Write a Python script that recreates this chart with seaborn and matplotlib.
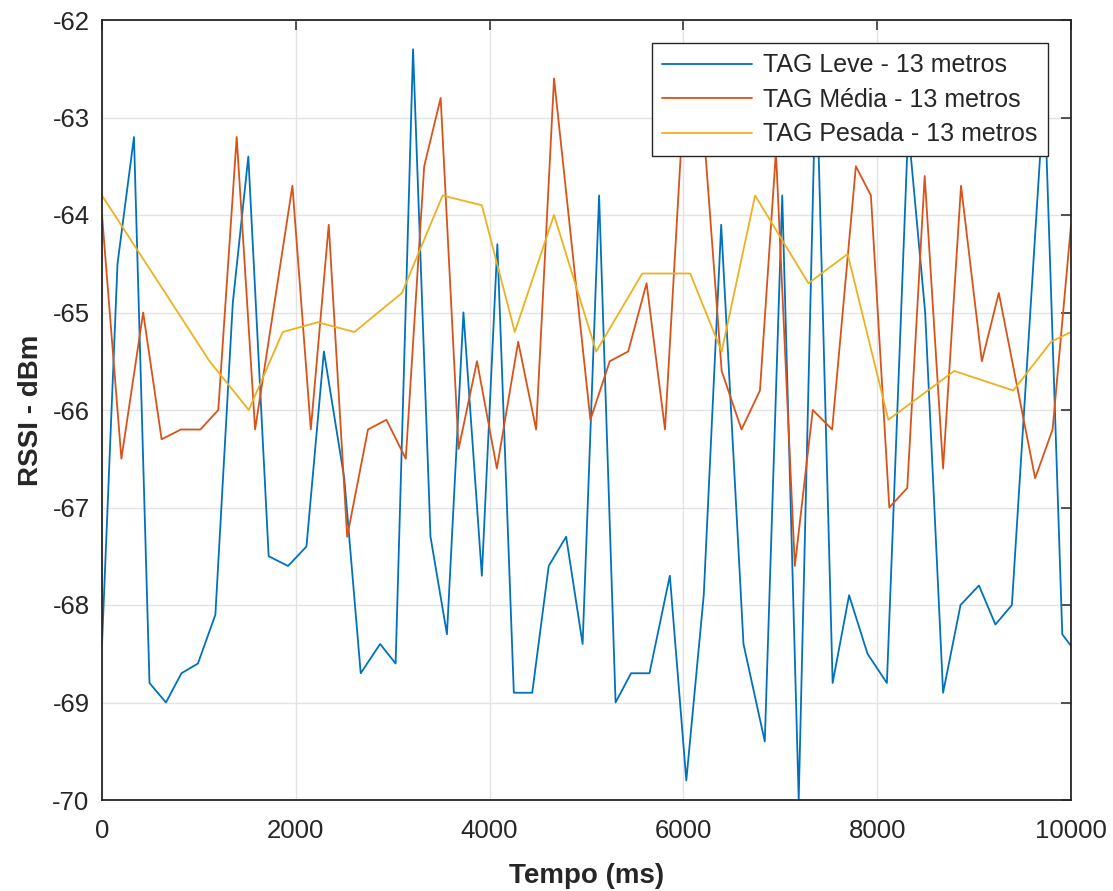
import matplotlib
matplotlib.use('Agg')
import matplotlib.pyplot as plt
import pandas as pd
import seaborn as sns

# TAG Leve
leve_t = [0, 160, 330, 490, 660, 820, 990, 1170, 1350, 1510, 1720, 1920, 2110,
          2290, 2500, 2670, 2870, 3030, 3210, 3390, 3560, 3730, 3920, 4080,
          4250, 4440, 4610, 4790, 4960, 5130, 5300, 5460, 5650, 5860, 6030,
          6210, 6390, 6620, 6840, 7020, 7190, 7370, 7540, 7710, 7900, 8100,
          8320, 8495, 8680, 8860, 9050, 9220, 9390, 9725, 9910, 10000]
leve_rssi = [-68.4, -64.5, -63.2, -68.8, -69.0, -68.7, -68.6, -68.1, -64.9, -63.4,
             -67.5, -67.6, -67.4, -65.4, -66.7, -68.7, -68.4, -68.6, -62.3, -67.3,
             -68.3, -65.0, -67.7, -64.3, -68.9, -68.9, -67.6, -67.3, -68.4, -63.8,
             -69.0, -68.7, -68.7, -67.7, -69.8, -67.9, -64.1, -68.4, -69.4, -63.8,
             -70.0, -62.4, -68.8, -67.9, -68.5, -68.8, -63.1, -65.0, -68.9, -68.0,
             -67.8, -68.2, -68.0, -62.7, -68.3, -68.42]

# TAG Media
media_t = [0, 200, 425, 615, 815, 1015, 1200, 1390, 1580, 1965, 2155, 2340, 2530,
           2745, 2935, 3135, 3325, 3495, 3680, 3870, 4075, 4295, 4480, 4665,
           5040, 5240, 5430, 5620, 5810, 6000, 6200, 6395, 6600, 6790, 6955,
           7150, 7335, 7535, 7780, 7935, 8125, 8310, 8490, 8680, 8865, 9080,
           9255, 9630, 9810, 10000]
media_rssi = [-64.0, -66.5, -65.0, -66.3, -66.2, -66.2, -66.0, -63.2, -66.2, -63.7,
              -66.2, -64.1, -67.3, -66.2, -66.1, -66.5, -63.5, -62.8, -66.4, -65.5,
              -66.6, -65.3, -66.2, -62.6, -66.1, -65.5, -65.4, -64.7, -66.2, -62.9,
              -63.0, -65.6, -66.2, -65.8, -63.35, -67.6, -66.0, -66.2, -63.5, -63.8,
              -67.0, -66.8, -63.6, -66.6, -63.7, -65.5, -64.8, -66.7, -66.2, -64.1]

# TAG Pesada
pesada_t = [0, 1110, 1515, 1865, 2225, 2605, 3095, 3515, 3920, 4260, 4665, 5100,
            5575, 6070, 6395, 6740, 7290, 7695, 8115, 8795, 9405, 9795, 10000]
pesada_rssi = [-63.8, -65.5, -66.0, -65.2, -65.1, -65.2, -64.8, -63.8, -63.9, -65.2,
               -64.0, -65.4, -64.6, -64.6, -65.4, -63.8, -64.7, -64.4, -66.1, -65.6,
               -65.8, -65.3, -65.2]

labels = ['TAG Leve - 13 metros', 'TAG Média - 13 metros', 'TAG Pesada - 13 metros']
colors = ['#0072BD', '#D95319', '#EDB120']

sns.set_style('whitegrid')
plt.rcParams['font.family'] = ['Liberation Sans', 'DejaVu Sans']
plt.rcParams['axes.unicode_minus'] = False

fig = plt.figure(figsize=(11.13, 8.91), dpi=100)
ax = fig.add_axes([102 / 1113, 1 - 800 / 891, 969 / 1113, 780 / 891])

series = [(leve_t, leve_rssi), (media_t, media_rssi), (pesada_t, pesada_rssi)]
for (t, r), lab, col in zip(series, labels, colors):
    df = pd.DataFrame({'t': t, 'rssi': r})
    sns.lineplot(data=df, x='t', y='rssi', ax=ax, color=col, label=lab,
                 linewidth=1.3, sort=False)

ax.set_xlim(0, 10000)
ax.set_ylim(-70, -62)
ax.set_xticks(range(0, 10001, 2000))
ax.set_yticks(range(-70, -61, 1))
ax.grid(True, color='#E3E3E3', linewidth=1.0)
ax.tick_params(axis='both', direction='in', length=7, width=1.1, labelsize=18.5,
               colors='#262626', top=True, right=True)
ax.tick_params(axis='x', pad=14)
ax.tick_params(axis='y', pad=9)
for s in ax.spines.values():
    s.set_visible(True)
    s.set_color('#262626')
    s.set_linewidth(1.3)

ax.set_xlabel('Tempo (ms)', fontsize=20, fontweight='bold', color='#262626', labelpad=14)
ax.set_ylabel('RSSI - dBm', fontsize=20, fontweight='bold', color='#262626', labelpad=6)

leg = ax.legend(loc='upper right', bbox_to_anchor=(0.976, 0.970), borderaxespad=0,
                fontsize=18, fancybox=False, framealpha=1, edgecolor='#262626',
                handlelength=3.6, handletextpad=0.45, labelspacing=0.42,
                borderpad=0.4)
leg.get_frame().set_linewidth(1.0)

fig.savefig('out.png', dpi=100)
